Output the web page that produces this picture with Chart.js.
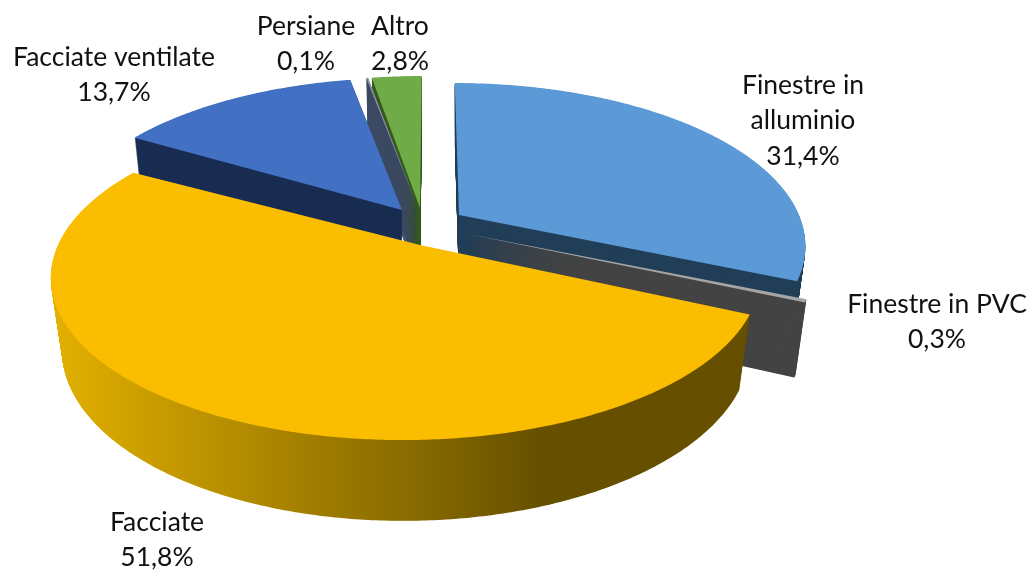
<!DOCTYPE html>
<html><head><meta charset="utf-8">
<style>html,body{margin:0;padding:0;background:#fff}canvas{display:block}</style>
<script src="https://cdn.jsdelivr.net/npm/chart.js@4"></script></head>
<body><canvas id="c" width="1031" height="570"></canvas>
<script>
const categories = ["Finestre in alluminio","Finestre in PVC","Facciate","Facciate ventilate","Persiane","Altro"];
const shareValues = [31.4,0.3,51.8,13.7,0.1,2.8];
const topColors = ["#5B9AD6","#A5A5A5","#FBBD00","#4270C2","#8A94A8","#6FAC47"];
const sideColors = ["#223F58","#444444",null,"#1A2D52","#3D4A63","#37591F"];

// Projection of the tilted pie (one apex per exploded slice)
const view = {b:157.4, k:0.193, d:73.5, m:0.03};
const sliceGeom = [
  {x:459,y:215,a:345,c:-5},
  {x:463,y:233,a:345,c:0},
  {x:420,y:245,a:348,c:-14},
  {x:402,y:210,a:340,c:0},
  {x:418,y:208,a:340,c:0},
  {x:420,y:208,a:340,c:2}
];
const paintOrder = [5,4,3,0,1,2];
const labelLayout = [
  {x:803,y:85,lines:["Finestre in","alluminio"]},
  {x:937,y:304,lines:["Finestre in PVC"]},
  {x:157,y:522,lines:["Facciate"]},
  {x:114,y:57,lines:["Facciate ventilate"]},
  {x:306,y:26,lines:["Persiane"]},
  {x:400,y:26,lines:["Altro"]}
];
const lineHeight = 35.5;

function project(g,u,v,z,onArc){
  const s = 1/(1-view.k*v+view.m*z);
  return [g.x+(g.a*u+(onArc?g.c:0))*s, g.y+(view.b*v+view.d*z)*s];
}
function sectorPath(ctx,g,arc,z){
  const a0=arc.startAngle,a1=arc.endAngle,n=Math.max(4,Math.ceil((a1-a0)/0.01));
  ctx.beginPath();
  let p=project(g,0,0,z,false);ctx.moveTo(p[0],p[1]);
  for(let i=0;i<=n;i++){
    const t=a0+(a1-a0)*i/n;
    p=project(g,Math.cos(t),Math.sin(t),z,true);ctx.lineTo(p[0],p[1]);
  }
  ctx.closePath();
}
const tiltedPie = {
  id:'tiltedPie',
  beforeDatasetsDraw(chart){
    const ctx=chart.ctx, arcs=chart.getDatasetMeta(0).data;
    const colors=chart.data.datasets[0].backgroundColor;
    const grad=ctx.createLinearGradient(55,0,545,0);
    grad.addColorStop(0,"#E2B000");grad.addColorStop(1,"#665000");
    ctx.save();
    paintOrder.forEach(i=>{
      const g=sliceGeom[i],arc=arcs[i],steps=110;
      const side=sideColors[i]||grad;
      ctx.fillStyle=side;
      for(let k=steps;k>0;k--){sectorPath(ctx,g,arc,k/steps);ctx.fill();}
      sectorPath(ctx,g,arc,0);
      ctx.fillStyle=colors[i];ctx.fill();
    });
    ctx.restore();
    return false;
  },
  afterDraw(chart){
    const ctx=chart.ctx;
    ctx.save();
    ctx.font='26.5px Lato, "Open Sans", sans-serif';
    ctx.fillStyle="#111";ctx.textAlign="center";ctx.textBaseline="middle";
    categories.forEach((c,i)=>{
      const l=labelLayout[i];
      const lines=l.lines.concat([shareValues[i].toFixed(1).replace('.',',')+'%']);
      lines.forEach((t,j)=>ctx.fillText(t,l.x,l.y+j*lineHeight));
    });
    ctx.restore();
  }
};
new Chart(document.getElementById('c'),{
  type:'pie',
  data:{labels:categories,datasets:[{data:shareValues,backgroundColor:topColors,borderWidth:0}]},
  options:{responsive:false,animation:false,events:[],
    plugins:{legend:{display:false},tooltip:{enabled:false}}},
  plugins:[tiltedPie]
});
</script></body></html>
